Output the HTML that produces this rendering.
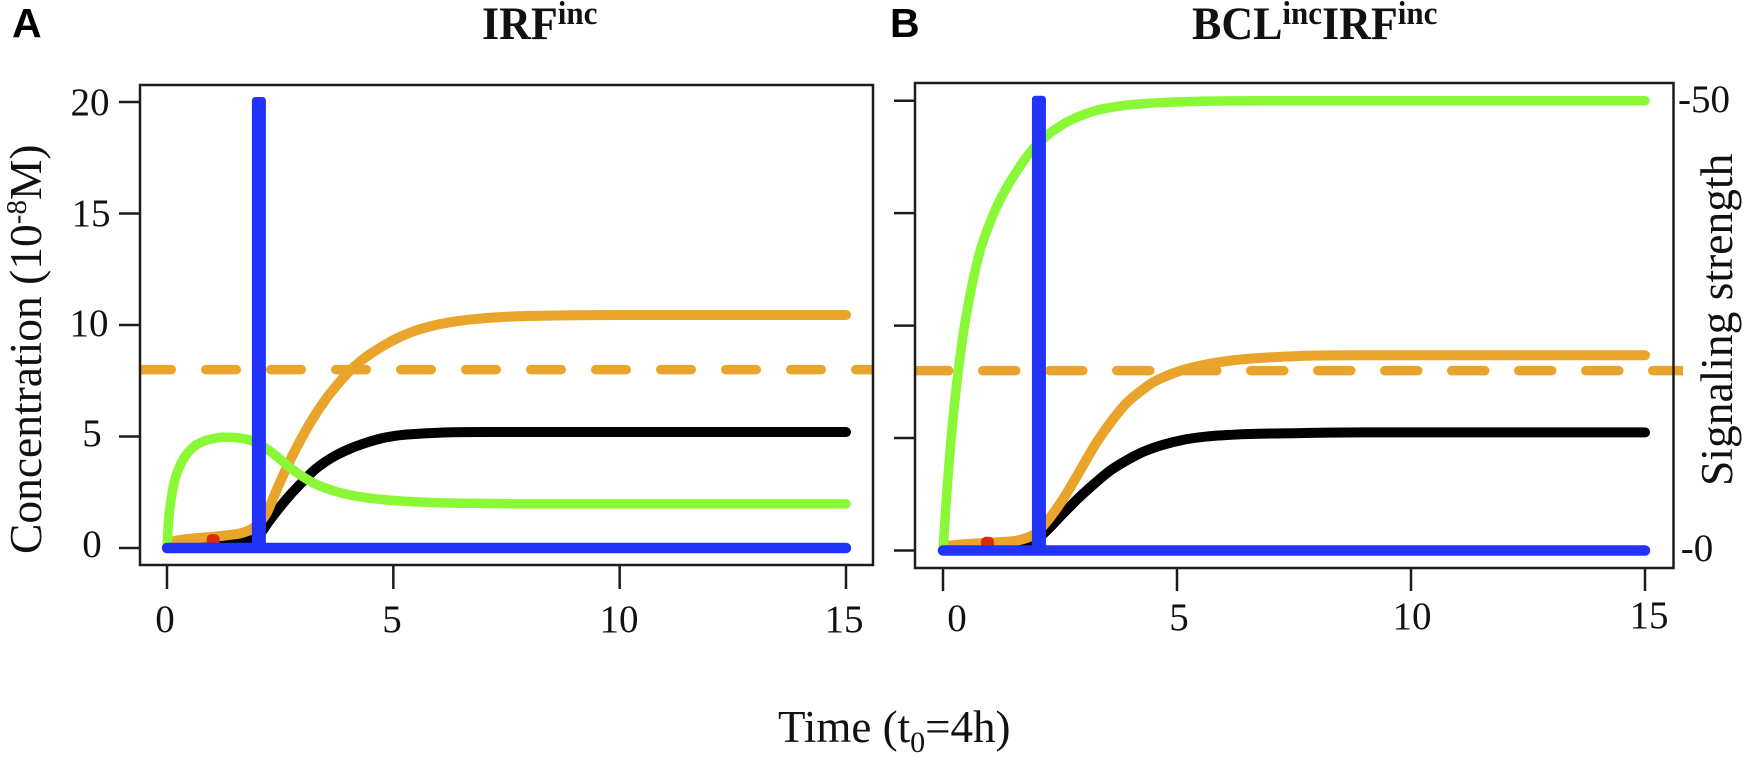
<!DOCTYPE html>
<html lang="en">
<head>
<meta charset="utf-8">
<title>IRF and BCL signaling simulation</title>
<style>
html,body{margin:0;padding:0;background:#fff;width:1748px;height:761px;overflow:hidden}
svg{display:block}
.serif{font-family:"Liberation Serif",serif;fill:#111}
.tick{font-size:39px;text-anchor:middle}
.sans{font-family:"Liberation Sans",sans-serif;font-weight:700;fill:#000}
</style>
</head>
<body>
<svg id="figure" width="1748" height="761" viewBox="0 0 1748 761" xmlns="http://www.w3.org/2000/svg">
  <defs>
    <clipPath id="clip-a"><rect x="140" y="85" width="733" height="480"/></clipPath>
    <clipPath id="clip-b"><rect x="915" y="83" width="768" height="485"/></clipPath>
  </defs>
  <g id="panel-a"></g>
  <g id="panel-b"></g>

  <text class="sans" x="12" y="37" font-size="41">A</text>
  <text class="sans" x="890" y="37" font-size="41">B</text>

  <text class="serif" transform="translate(482,39) scale(1,1.07)" font-size="44" font-weight="700">IRF<tspan font-size="31" dy="-14">inc</tspan></text>
  <text class="serif" transform="translate(1192,39) scale(1,1.07)" font-size="44" font-weight="700">BCL<tspan font-size="31" dy="-14">inc</tspan><tspan dy="14">IRF</tspan><tspan font-size="31" dy="-14">inc</tspan></text>

  <g>
    <text class="serif tick" x="90" y="115">20</text>
    <text class="serif tick" x="91" y="226">15</text>
    <text class="serif tick" x="89" y="336">10</text>
    <text class="serif tick" x="92" y="446">5</text>
    <text class="serif tick" x="92" y="557">0</text>
  </g>
  <g>
    <text class="serif tick" x="165" y="632">0</text>
    <text class="serif tick" x="392" y="632">5</text>
    <text class="serif tick" x="619" y="632">10</text>
    <text class="serif tick" x="844" y="632">15</text>
  </g>
  <g>
    <text class="serif tick" x="957" y="631">0</text>
    <text class="serif tick" x="1179" y="630">5</text>
    <text class="serif tick" x="1412" y="629">10</text>
    <text class="serif tick" x="1649" y="628">15</text>
  </g>
  <g>
    <text class="serif tick" x="1704" y="112">-50</text>
    <text class="serif tick" x="1697" y="561">-0</text>
  </g>

  <text class="serif" transform="translate(41,554) rotate(-90)" font-size="45.5">Concentration (10<tspan font-size="29" dy="-15">-8</tspan><tspan dy="15">M)</tspan></text>
  <text class="serif" transform="translate(1732,486) rotate(-90)" font-size="45.5">Signaling strength</text>
  <text class="serif" x="778" y="742" font-size="45">Time (t<tspan font-size="30" dy="10">0</tspan><tspan dy="-10">=4h)</tspan></text>
</svg>

<script>
// Shared axis ticks
const xTicks = [0, 5, 10, 15];
const yTicks = [0, 5, 10, 15, 20];
const thresholdValue = 8;

// Panel A series (time, concentration)
const aBlackT = [0, 0.3, 1, 1.68, 1.95, 2.1, 2.2, 2.45, 2.72, 3, 3.23, 3.6, 4.04, 4.4, 4.77, 5.15, 5.6, 6, 7, 15];
const aBlackV = [0, 0.08, 0.2, 0.3, 0.42, 0.75, 1.05, 1.72, 2.38, 2.98, 3.45, 4.0, 4.45, 4.72, 4.93, 5.06, 5.13, 5.17, 5.2, 5.2];
const aOrangeT = [0, 0.05, 0.12, 0.29, 0.6, 1.02, 1.4, 1.68, 1.89, 2.05, 2.2, 2.4, 2.64, 2.9, 3.16, 3.5, 3.82, 4.04, 4.3, 4.55, 4.85, 5.15, 5.5, 5.88, 6.4, 6.98, 7.5, 8.09, 9, 10, 15];
const aOrangeV = [0, 0.18, 0.27, 0.36, 0.43, 0.5, 0.59, 0.69, 0.88, 1.15, 1.56, 2.5, 3.6, 4.65, 5.6, 6.65, 7.46, 7.95, 8.42, 8.78, 9.15, 9.47, 9.75, 9.97, 10.17, 10.3, 10.37, 10.41, 10.44, 10.45, 10.45];
const aGreenT = [0, 0.03, 0.1, 0.18, 0.3, 0.43, 0.6, 0.8, 1, 1.32, 1.6, 1.83, 2.05, 2.27, 2.5, 2.72, 3, 3.23, 3.6, 4.04, 4.5, 5, 5.5, 6, 7, 8, 15];
const aGreenV = [0, 1.1, 2.3, 3.1, 3.75, 4.2, 4.55, 4.78, 4.9, 4.97, 4.93, 4.84, 4.65, 4.35, 3.98, 3.6, 3.2, 2.92, 2.62, 2.38, 2.23, 2.13, 2.07, 2.03, 2.0, 1.98, 1.98];
const aRedT = [1.02];
const aRedV = [0.31];
const aBlueT = [0, 15];
const aBlueSpikeT = 2.03;
const aBlueSpikeV = 20;

// Panel B series (time, concentration)
const bBlackT = [0, 0.3, 1, 1.7, 2, 2.2, 2.5, 2.93, 3.25, 3.57, 3.9, 4.27, 4.7, 5.13, 5.6, 6.2, 7.63, 9, 15];
const bBlackV = [0, 0.08, 0.2, 0.3, 0.5, 0.85, 1.5, 2.4, 3.0, 3.55, 3.98, 4.38, 4.7, 4.92, 5.06, 5.15, 5.22, 5.25, 5.25];
const bOrangeT = [0, 0.1, 0.3, 1, 1.7, 1.95, 2.1, 2.3, 2.57, 2.9, 3.28, 3.6, 3.92, 4.2, 4.49, 4.8, 5.13, 5.45, 5.77, 6.25, 6.77, 7.63, 9, 15];
const bOrangeV = [0, 0.2, 0.25, 0.35, 0.5, 0.72, 1.0, 1.5, 2.3, 3.45, 4.8, 5.75, 6.55, 7.05, 7.48, 7.78, 8.03, 8.2, 8.33, 8.47, 8.56, 8.65, 8.68, 8.68];
const bGreenT = [0, 0.04, 0.1, 0.17, 0.29, 0.43, 0.6, 0.79, 0.97, 1.15, 1.35, 1.57, 1.75, 1.92, 2.22, 2.45, 2.71, 3, 3.28, 3.8, 4.35, 5.42, 7, 15];
const bGreenV = [0, 1.3, 3.1, 4.9, 7.35, 9.6, 11.6, 13.3, 14.4, 15.3, 16.1, 16.85, 17.4, 17.85, 18.45, 18.8, 19.12, 19.38, 19.57, 19.77, 19.88, 19.97, 20, 20];
const bRedT = [0.95];
const bRedV = [0.3];
const bBlueT = [0, 15];
const bBlueSpikeT = 2.05;
const bBlueSpikeV = 20;

const NS = 'http://www.w3.org/2000/svg';
const COL = {black:'#000000', orange:'#e9a42b', green:'#8af837', red:'#dd2a0c', blue:'#2233f8', axis:'#1c1c1c'};

function makeScale(v0, px0, v1, px1) {
  return v => px0 + (v - v0) * (px1 - px0) / (v1 - v0);
}

function add(parent, tag, attrs, name) {
  const el = document.createElementNS(NS, tag);
  for (const k in attrs) el.setAttribute(k, attrs[k]);
  
  
  parent.appendChild(el);
  return el;
}

// Smooth cubic path through the data points (three-point tangents, limited to stay monotone)
function curve(ts, vs, X, Y) {
  const xs = ts.map(X), ys = vs.map(Y), n = xs.length;
  const h = [], s = [], m = [];
  for (let i = 0; i < n - 1; i++) {
    h.push(xs[i + 1] - xs[i]);
    s.push((ys[i + 1] - ys[i]) / h[i]);
  }
  m[0] = s[0];
  m[n - 1] = s[n - 2];
  for (let i = 1; i < n - 1; i++) {
    const p = (s[i - 1] * h[i] + s[i] * h[i - 1]) / (h[i - 1] + h[i]);
    if (s[i - 1] * s[i] <= 0) {
      m[i] = 0;
    } else {
      const lim = 3 * Math.min(Math.abs(s[i - 1]), Math.abs(s[i]));
      m[i] = Math.sign(p) * Math.min(Math.abs(p), lim);
    }
  }
  let d = 'M' + xs[0].toFixed(2) + ' ' + ys[0].toFixed(2);
  for (let i = 0; i < n - 1; i++) {
    const c = h[i] / 3;
    d += 'C' + (xs[i] + c).toFixed(2) + ' ' + (ys[i] + m[i] * c).toFixed(2) + ' ' +
         (xs[i + 1] - c).toFixed(2) + ' ' + (ys[i + 1] - m[i + 1] * c).toFixed(2) + ' ' +
         xs[i + 1].toFixed(2) + ' ' + ys[i + 1].toFixed(2);
  }
  return d;
}

function drawPanel(p) {
  const g = document.getElementById(p.id);
  const X = makeScale(0, p.x0, 15, p.x15);
  const Y = makeScale(0, p.y0, 20, p.y20);

  const line = (t, v, color, w, name) => add(g, 'path', {
    d: curve(t, v, X, Y), fill: 'none', stroke: color, 'stroke-width': w,
    'stroke-linecap': 'round', 'stroke-linejoin': 'round'
  }, name);

  // Threshold dashes
  add(g, 'line', {
    x1: p.dashStart, x2: p.dashEnd, y1: Y(thresholdValue), y2: Y(thresholdValue),
    stroke: COL.orange, 'stroke-width': 9.5, 'stroke-linecap': 'round',
    'stroke-dasharray': p.dash, 'clip-path': 'url(#' + p.clip + ')'
  }, p.key + '-threshold-line');

  line(p.blackT, p.blackV, COL.black, 10, p.key + '-black-series');
  line(p.orangeT, p.orangeV, COL.orange, 10, p.key + '-orange-series');
  line(p.greenT, p.greenV, COL.green, 9.5, p.key + '-green-series');

  p.redT.forEach((t, i) => {
    add(g, 'rect', {x: X(t) - 6.5, y: Y(p.redV[i]) - 7, width: 13, height: 14, rx: 5, fill: COL.red}, p.key + '-red-marker');
  });

  // Blue baseline and spike
  add(g, 'line', {
    x1: X(p.blueT[0]), x2: X(p.blueT[1]), y1: Y(0), y2: Y(0),
    stroke: COL.blue, 'stroke-width': 10.5, 'stroke-linecap': 'round'
  }, p.key + '-blue-baseline');
  add(g, 'rect', {
    x: X(p.spikeT) - 7, y: Y(p.spikeV) - 5, width: 14,
    height: Y(0) - Y(p.spikeV) + 8, rx: 3.5, fill: COL.blue
  }, p.key + '-blue-spike');

  // Frame
  add(g, 'rect', {
    x: p.left, y: p.top, width: p.right - p.left, height: p.bottom - p.top,
    fill: 'none', stroke: COL.axis, 'stroke-width': 2.5
  }, p.key + '-plot-frame');

  // Ticks
  xTicks.forEach(t => {
    add(g, 'line', {x1: X(t), x2: X(t), y1: p.bottom, y2: p.xTickEnd, stroke: COL.axis, 'stroke-width': 2.5}, p.key + '-x-tick');
  });
  yTicks.forEach(v => {
    add(g, 'line', {x1: p.yTickStart, x2: p.left, y1: Y(v), y2: Y(v), stroke: COL.axis, 'stroke-width': 2.5}, p.key + '-y-tick');
  });
}

drawPanel({
  id: 'panel-a', key: 'a', clip: 'clip-a',
  x0: 167, x15: 846, y0: 548, y20: 102,
  left: 140, right: 873, top: 85, bottom: 565,
  xTickEnd: 589, yTickStart: 119,
  dashStart: 140.75, dashEnd: 873, dash: '30.5 34.5',
  blackT: aBlackT, blackV: aBlackV, orangeT: aOrangeT, orangeV: aOrangeV,
  greenT: aGreenT, greenV: aGreenV, redT: aRedT, redV: aRedV,
  blueT: aBlueT, spikeT: aBlueSpikeT, spikeV: aBlueSpikeV
});

drawPanel({
  id: 'panel-b', key: 'b', clip: 'clip-b',
  x0: 943, x15: 1645, y0: 550.5, y20: 100.7,
  left: 915, right: 1673.5, top: 83, bottom: 568,
  xTickEnd: 591, yTickStart: 894,
  dashStart: 915.75, dashEnd: 1683, dash: '33 34',
  blackT: bBlackT, blackV: bBlackV, orangeT: bOrangeT, orangeV: bOrangeV,
  greenT: bGreenT, greenV: bGreenV, redT: bRedT, redV: bRedV,
  blueT: bBlueT, spikeT: bBlueSpikeT, spikeV: bBlueSpikeV
});
</script>
</body>
</html>
